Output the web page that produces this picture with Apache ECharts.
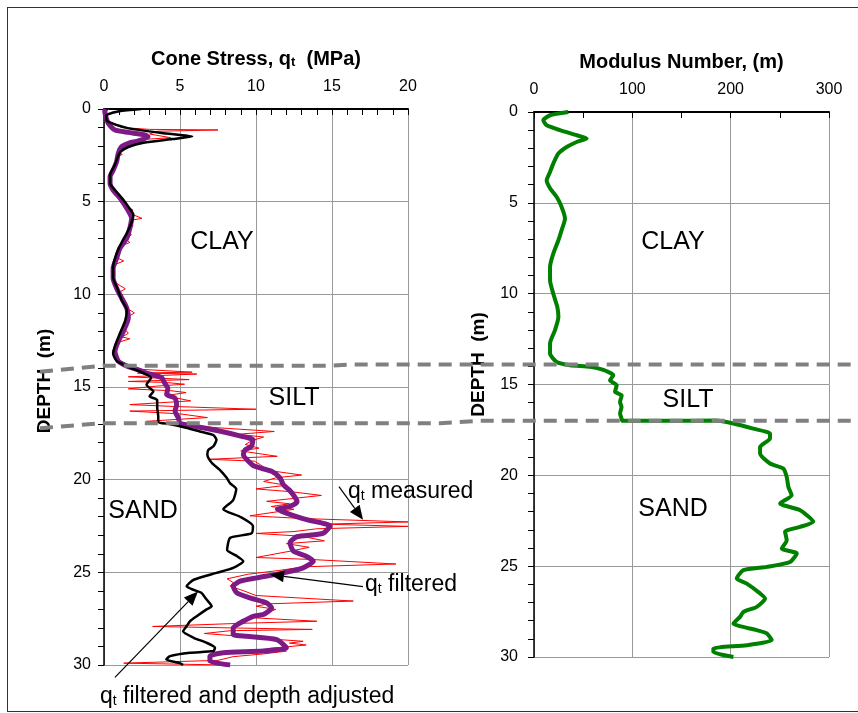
<!DOCTYPE html>
<html>
<head>
<meta charset="utf-8">
<script src="https://cdn.jsdelivr.net/npm/echarts@6/dist/echarts.min.js"></script>
<style>
html, body { margin: 0; padding: 0; background: #fff; }
#wrap { position: relative; width: 858px; height: 713px; }
#main { width: 858px; height: 713px; }
#frame { position: absolute; left: 7px; top: 7px; width: 880px; height: 703px; border: 1.5px solid #333; pointer-events: none; }
</style>
</head>
<body>
<div id="wrap"><div id="main"></div><div id="frame"></div></div>
<script>
// [q_t (MPa), depth (m)]
var qtMeasured = [
  [0.3,0],[0.1,0.2],[0.2,0.5],[0.5,0.8],[1.2,1.0],[3.0,1.1],[7.5,1.13],[3.5,1.2],[3.0,1.35],[4.4,1.55],
  [2.4,1.65],[1.8,1.8],[1.6,1.9],[1.1,2.0],[1.3,2.1],[0.9,2.3],[1.2,2.45],[0.8,2.6],[0.9,2.8],[0.7,3.0],
  [0.6,3.3],[0.4,3.6],[0.5,3.8],[0.4,4.0],[0.7,4.3],[0.9,4.6],[1.2,4.9],[1.4,5.2],[1.9,5.45],[1.6,5.6],
  [2.5,5.9],[1.8,6.0],[1.9,6.3],[1.6,6.6],[1.8,6.8],[1.4,7.0],[1.7,7.2],[1.1,7.4],[1.0,7.7],[0.8,8.0],
  [1.3,8.2],[0.7,8.4],[0.6,8.7],[0.7,9.0],[0.6,9.3],[1.0,9.5],[1.4,9.7],[1.0,9.9],[1.3,10.2],[1.5,10.5],
  [1.6,10.8],[2.0,11.0],[1.6,11.2],[1.5,11.5],[1.3,11.8],[1.6,12.1],[1.2,12.3],[1.7,12.4],[0.9,12.6],[0.8,12.9],
  [0.7,13.2],[0.9,13.5],[1.3,13.7],[1.8,13.9],[2.5,14.05],[5.8,14.2],[2.2,14.25],[6.1,14.3],[1.6,14.45],[3.0,14.5],
  [5.6,14.6],[1.6,14.7],[4.0,14.75],[5.3,14.85],[3.5,14.95],[1.6,15.1],[4.4,15.2],[5.4,15.3],[4.2,15.45],[4.8,15.6],
  [5.7,15.75],[1.7,15.95],[4.6,16.05],[10.0,16.2],[1.7,16.3],[5.0,16.45],[6.8,16.65],[2.8,16.85],[4.2,16.95],[5.0,17.03],
  [7.5,17.2],[11.2,17.4],[8.8,17.55],[10.5,17.7],[9.7,17.9],[9.3,18.1],[10.2,18.3],[9.0,18.45],[11.4,18.74],[6.9,18.9],
  [9.9,19.0],[10.3,19.2],[10.8,19.5],[13.0,19.75],[11.3,19.9],[10.5,20.1],[12.0,20.3],[10.0,20.5],[12.3,20.65],[14.3,20.85],
  [12.6,21.0],[10.7,21.17],[12.2,21.3],[11.0,21.45],[12.5,21.6],[9.6,21.95],[13.2,22.1],[20.0,22.28],[14.5,22.4],[20.0,22.52],
  [14.0,22.65],[12.5,22.8],[10.0,22.9],[13.0,23.05],[14.5,23.3],[12.0,23.45],[13.5,23.65],[12.3,23.85],[10.0,24.2],[13.5,24.3],
  [19.2,24.55],[13.2,24.7],[11.5,24.9],[9.5,25.1],[8.1,25.35],[8.5,25.55],[8.3,25.75],[9.2,26.0],[10.0,26.25],[16.4,26.55],
  [10.8,26.7],[10.0,26.83],[11.3,27.0],[10.5,27.25],[9.8,27.45],[14.0,27.64],[9.0,27.75],[3.2,27.92],[13.7,28.08],[8.3,28.15],
  [6.6,28.3],[9.0,28.45],[11.0,28.6],[13.1,28.72],[12.2,28.82],[13.3,28.92],[11.0,29.1],[12.0,29.25],[10.5,29.4],[8.5,29.55],
  [7.5,29.75],[1.3,29.9],[8.0,30.0]
];
var qtFiltered = [
  [0.1,0],[0.05,0.1],[0.15,0.5],[0.3,0.8],[0.72,1.13],[1.6,1.26],[2.7,1.4],[2.9,1.5],[2.26,1.72],[1.6,1.85],
  [1.16,2.03],[0.94,2.39],[0.83,2.84],[0.61,3.29],[0.4,3.65],[0.4,4.0],[0.6,4.37],[1.05,4.8],[1.5,5.35],[1.82,5.9],
  [1.7,6.43],[1.5,6.97],[1.05,7.5],[0.83,8.05],[0.6,8.6],[0.6,9.13],[0.83,9.67],[1.16,10.2],[1.5,10.75],[1.6,11.28],
  [1.27,12.0],[0.94,12.54],[0.72,13.08],[0.94,13.6],[1.6,13.9],[2.26,14.07],[2.8,14.25],[3.8,14.5],[4.0,14.8],[4.2,15.06],
  [4.12,15.4],[4.67,15.6],[4.78,15.96],[4.67,16.3],[4.9,16.68],[5.0,16.95],[6.0,17.12],[7.74,17.4],[9.06,17.66],[9.8,17.85],
  [9.7,18.2],[9.28,18.4],[9.17,18.65],[9.5,19.0],[9.93,19.28],[11.03,19.55],[11.58,19.91],[11.8,20.27],[12.24,20.6],[12.6,21.0],
  [12.7,21.2],[12.24,21.44],[11.4,21.6],[12.0,21.8],[13.33,22.16],[14.87,22.5],[14.4,22.9],[12.68,23.08],[12.24,23.4],[12.46,23.86],
  [13.3,24.13],[13.77,24.4],[13.1,24.76],[11.8,25.03],[10.04,25.3],[8.95,25.48],[8.5,25.75],[8.73,26.1],[9.6,26.38],[10.7,26.65],
  [11.03,26.92],[10.48,27.28],[9.82,27.37],[9.16,27.64],[8.5,28.0],[8.5,28.36],[9.39,28.45],[11.36,28.63],[12.0,29.07],[10.48,29.25],
  [7.85,29.34],[6.97,29.52],[6.97,29.8],[8.3,30.0]
];
var qtAdjusted = [
  [2.45,0],[1.0,0.12],[0.15,0.35],[0.2,0.65],[1.5,1.02],[3.8,1.3],[5.8,1.48],[4.5,1.62],[2.6,1.82],[1.6,2.05],
  [1.1,2.3],[0.9,2.6],[0.72,3.0],[0.4,3.56],[0.4,4.0],[0.72,4.37],[1.27,4.9],[1.6,5.27],[1.93,5.7],[1.8,6.15],
  [1.5,6.7],[1.16,7.2],[0.84,7.77],[0.6,8.5],[0.6,9.1],[0.84,9.6],[1.16,10.3],[1.5,10.84],[1.4,11.4],[1.05,12.1],
  [0.72,12.8],[0.6,13.2],[0.84,13.6],[1.7,13.95],[2.6,14.25],[3.1,14.5],[2.8,14.88],[3.25,15.24],[3.0,15.5],[3.5,15.7],
  [3.5,16.1],[3.57,16.6],[3.57,16.9],[4.3,17.0],[5.4,17.2],[6.3,17.4],[7.2,17.6],[7.4,17.85],[7.2,18.2],[6.86,18.4],
  [6.8,18.65],[7.1,19.1],[7.6,19.46],[8.07,19.9],[8.3,20.2],[8.7,20.5],[8.5,21.1],[7.85,21.6],[8.95,22.0],[9.8,22.5],
  [9.7,22.9],[8.3,23.14],[8.1,23.8],[8.7,24.1],[9.16,24.4],[8.5,24.76],[7.4,25.03],[5.9,25.4],[5.44,25.75],[5.9,25.95],
  [6.4,26.1],[6.75,26.47],[7.08,26.83],[6.75,27.0],[6.1,27.37],[5.66,27.64],[5.44,27.9],[5.2,28.18],[5.9,28.53],[6.75,28.8],
  [7.3,29.07],[7.2,29.25],[5.66,29.34],[4.34,29.52],[4.1,29.7],[5.0,29.9],[5.2,30.0]
];
// [modulus number m, depth (m)]
var modulus = [
  [34.9,0],[16.3,0.18],[9.5,0.45],[12.9,0.73],[26.4,1.0],[43.4,1.28],[53.6,1.46],[43.4,1.65],[33.2,1.93],[24.8,2.29],
  [19.6,2.84],[16.3,3.3],[12.9,3.76],[16.3,4.2],[23.1,4.68],[28.1,5.23],[31.5,5.87],[28.1,6.5],[24.8,7.06],[19.6,7.8],
  [16.3,8.53],[16.3,9.26],[19.6,10.0],[23.7,10.73],[24.8,11.28],[21.4,12.0],[16.3,12.75],[16.3,13.3],[23.1,13.76],[36.6,13.94],
  [57,14.03],[70.5,14.2],[80.7,14.49],[77.3,14.77],[84.1,15.04],[82.4,15.4],[89.2,15.6],[87.5,15.96],[89,16.24],[87.5,16.6],
  [89,16.87],[90,17.0],[138,17.0],[185.8,16.98],[202.8,17.15],[223,17.43],[240,17.7],[240,17.97],[229.9,18.44],[229.9,18.8],
  [240,19.35],[253.6,19.63],[257,20.09],[258.7,20.64],[262,21.1],[250.3,21.55],[270.6,21.92],[284,22.56],[270.6,22.84],[255.3,23.1],
  [257,23.57],[252,24.03],[267.2,24.3],[260.4,24.77],[236.7,25.04],[212.9,25.22],[206.2,25.68],[216.4,25.96],[229.9,26.5],[235,26.78],
  [226.5,27.24],[212.9,27.52],[209.6,27.79],[202.8,28.16],[226.5,28.52],[236.7,28.7],[241.8,29.07],[216.4,29.35],[182.4,29.53],[182.4,29.72],
  [202.8,30.0]
];
var layerBase = { clay: 13.9, silt: 17.0 };

var font = 'Arial, "Liberation Sans", sans-serif';
var chart = echarts.init(document.getElementById('main'));

function xAx(grid, max, interval, minorSplit, name) {
  return {
    type: 'value', gridIndex: grid, position: 'top', min: 0, max: max, interval: interval,
    name: name, nameLocation: 'middle', nameGap: 40,
    nameTextStyle: {
      color: '#000', fontFamily: font, fontWeight: 'bold', fontSize: 20,
      rich: {
        b: { fontFamily: font, fontWeight: 'bold', fontSize: 20, color: '#000' },
        s: { fontFamily: font, fontWeight: 'bold', fontSize: 13, color: '#000', verticalAlign: 'bottom' }
      }
    },
    axisLine: { show: true, onZero: false, lineStyle: { color: '#000', width: 2 } },
    axisTick: { show: true, inside: true, length: 6, lineStyle: { color: '#000', width: 1 } },
    minorTick: { show: true, splitNumber: minorSplit, length: 6, lineStyle: { color: '#000', width: 1 } },
    axisLabel: { color: '#000', fontFamily: font, fontSize: 16, margin: 14 },
    splitLine: { show: true, lineStyle: { color: '#999', width: 1 } }
  };
}
function yAx(grid, gap, margin, pad) {
  return {
    type: 'value', gridIndex: grid, inverse: true, min: 0, max: 30, interval: 5,
    name: 'DEPTH  (m)', nameLocation: 'middle', nameGap: gap, nameRotate: 90,
    nameTextStyle: { color: '#000', fontFamily: font, fontWeight: 'bold', fontSize: 19, padding: pad },
    axisLine: { show: true, onZero: false, lineStyle: { color: '#000', width: 1.5 } },
    axisTick: { show: true, inside: false, length: 6, lineStyle: { color: '#000', width: 1 } },
    minorTick: { show: true, splitNumber: 5, length: 6, lineStyle: { color: '#000', width: 1 } },
    axisLabel: { color: '#000', fontFamily: font, fontSize: 16, margin: margin },
    splitLine: { show: true, lineStyle: { color: '#999', width: 1 } }
  };
}

var option = {
  animation: false,
  backgroundColor: '#fff',
  grid: [
    { left: 104, top: 109, width: 304, height: 556 },
    { left: 534, top: 112, width: 295, height: 545 }
  ],
  xAxis: [
    xAx(0, 20, 5, 5, '{b|Cone Stress, q}{s|t}{b|  (MPa)}'),
    xAx(1, 300, 100, 2, 'Modulus Number, (m)')
  ],
  yAxis: [yAx(0, 50, 13, [0, 0, 0, 12]), yAx(1, 46, 16, [0, 0, 0, 40])],
  series: [
    { type: 'line', xAxisIndex: 0, yAxisIndex: 0, data: qtMeasured, symbol: 'none',
      lineStyle: { color: '#ff0000', width: 1 }, z: 2 },
    { type: 'line', xAxisIndex: 0, yAxisIndex: 0, data: qtFiltered, symbol: 'none', smooth: 0.2,
      lineStyle: { color: '#7d1a86', width: 5 }, z: 3 },
    { type: 'line', xAxisIndex: 0, yAxisIndex: 0, data: qtAdjusted, symbol: 'none', smooth: 0.2,
      lineStyle: { color: '#000', width: 2.5 }, z: 4 },
    { type: 'line', xAxisIndex: 1, yAxisIndex: 1, data: modulus, symbol: 'none', smooth: 0.2,
      lineStyle: { color: '#008000', width: 4 }, z: 3 }
  ]
};
chart.setOption(option);

function px(g, x, y) { return chart.convertToPixel({ gridIndex: g }, [x, y]); }

function label(g, x, y, txt) {
  var p = px(g, x, y);
  return { type: 'text', x: p[0], y: p[1], z: 50,
    style: { text: txt, fontFamily: font, fontSize: 25, fill: '#000', align: 'center', verticalAlign: 'middle' } };
}
function note(x, y, rest) {
  var p = px(0, x, y);
  return { type: 'text', x: p[0], y: p[1], z: 50,
    style: {
      text: '{n|q}{s|t}{n|' + rest + '}', align: 'left', verticalAlign: 'middle', fill: '#000',
      rich: {
        n: { fontFamily: font, fontSize: 23, fill: '#000' },
        s: { fontFamily: font, fontSize: 14, fill: '#000', verticalAlign: 'bottom' }
      }
    } };
}
function arrow(a, b) {
  var p0 = px(0, a[0], a[1]), p1 = px(0, b[0], b[1]);
  var dx = p1[0] - p0[0], dy = p1[1] - p0[1], L = Math.sqrt(dx * dx + dy * dy);
  var ux = dx / L, uy = dy / L, hl = 14, hw = 6;
  var bx = p1[0] - ux * hl, by = p1[1] - uy * hl;
  return [
    { type: 'line', z: 50, shape: { x1: p0[0], y1: p0[1], x2: bx, y2: by }, style: { stroke: '#000', lineWidth: 1.2 } },
    { type: 'polygon', z: 50, shape: { points: [p1, [bx - uy * hw, by + ux * hw], [bx + uy * hw, by - ux * hw]] }, style: { fill: '#000' } }
  ];
}

var yL1 = px(0, 0, layerBase.clay - 0.05)[1], yR1 = px(1, 0, layerBase.clay)[1];
var yL2 = px(0, 0, layerBase.silt - 0.05)[1], yR2 = px(1, 0, layerBase.silt)[1];

var graphics = [
  { type: 'polyline', z: 40, shape: { points: [[40, yL1 + 6], [104, yL1], [330, yL1], [350, yR1], [858, yR1]] },
    style: { stroke: '#808080', lineWidth: 4, lineDash: [13, 8], fill: 'none' } },
  { type: 'polyline', z: 40, shape: { points: [[40, yL2 + 5], [104, yL2], [440, yL2], [480, yR2], [858, yR2]] },
    style: { stroke: '#808080', lineWidth: 4, lineDash: [13, 8], fill: 'none' } },
  label(0, 7.76, 7.17, 'CLAY'),
  label(0, 12.5, 15.58, 'SILT'),
  label(0, 2.57, 21.67, 'SAND'),
  label(1, 141.4, 7.17, 'CLAY'),
  label(1, 156.7, 15.87, 'SILT'),
  label(1, 141.4, 21.86, 'SAND'),
  note(16.05, 20.65, ' measured'),
  note(17.17, 25.66, ' filtered'),
  note(-0.26, 31.7, ' filtered and depth adjusted')
].concat(arrow([15.46, 20.38], [17.04, 22.16]))
 .concat(arrow([17.04, 25.77], [10.92, 25.12]))
 .concat(arrow([0.72, 30.67], [6.18, 26.04]));

chart.setOption({ graphic: graphics });
</script>
</body>
</html>
